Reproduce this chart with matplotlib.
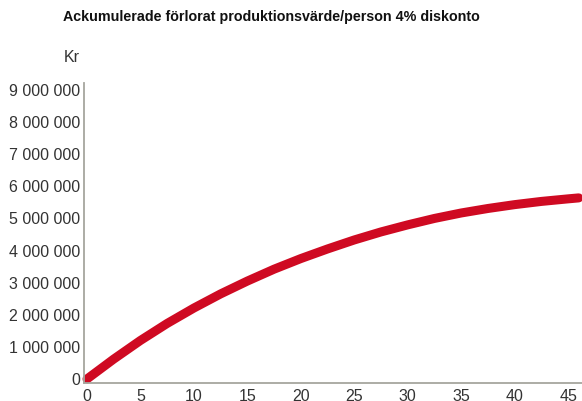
import matplotlib.pyplot as plt
from matplotlib.ticker import FuncFormatter

# years and accumulated lost production value (kr)
years = [0, 2.5, 5, 7.5, 10, 12.5, 15, 17.5, 20, 22.5, 25, 27.5, 30,
         32.5, 35, 37.5, 40, 42.5, 45, 46]
value = [0, 620000, 1200000, 1730000, 2210000, 2650000, 3050000, 3420000,
         3750000, 4050000, 4330000, 4580000, 4800000, 5000000, 5170000,
         5310000, 5430000, 5530000, 5610000, 5640000]

xticks = [0, 5, 10, 15, 20, 25, 30, 35, 40, 45]
yticks = [0, 1000000, 2000000, 3000000, 4000000, 5000000, 6000000,
          7000000, 8000000, 9000000]

title = "Ackumulerade förlorat produktionsvärde/person 4% diskonto"

plt.rcParams['font.family'] = ['Liberation Sans', 'DejaVu Sans']

W, H = 582, 401
fig = plt.figure(figsize=(W / 100, H / 100), dpi=100)
ax = fig.add_axes([84 / W, (H - 383) / H, 1 - 84 / W, (383 - 83) / H])

ax.plot(years, value, color='#cf0a22', lw=6.5, solid_capstyle='round',
        solid_joinstyle='round', clip_on=False)

ax.set_xlim(-0.28, 46.3)
ax.set_ylim(-125000, 9218000)
ax.set_xticks(xticks)
ax.set_yticks(yticks)
ax.yaxis.set_major_formatter(
    FuncFormatter(lambda v, p: "{:,.0f}".format(v).replace(",", " ")))
ax.tick_params(length=0, labelsize=11.5, labelcolor='#333333')
ax.tick_params(axis='y', pad=3)
ax.tick_params(axis='x', pad=4)

for s in ['top', 'right']:
    ax.spines[s].set_visible(False)
for s in ['left', 'bottom']:
    ax.spines[s].set_color('#a6a69e')
    ax.spines[s].set_linewidth(1.3)

fig.text(271 / W, 1 - 17 / H, title, ha='center', va='center',
         fontsize=10.3, fontweight='bold', color='#111111')
fig.text(80 / W, 1 - 58 / H, "Kr", ha='right', va='center',
         fontsize=11.5, color='#333333')

fig.savefig("out.png", dpi=100)
